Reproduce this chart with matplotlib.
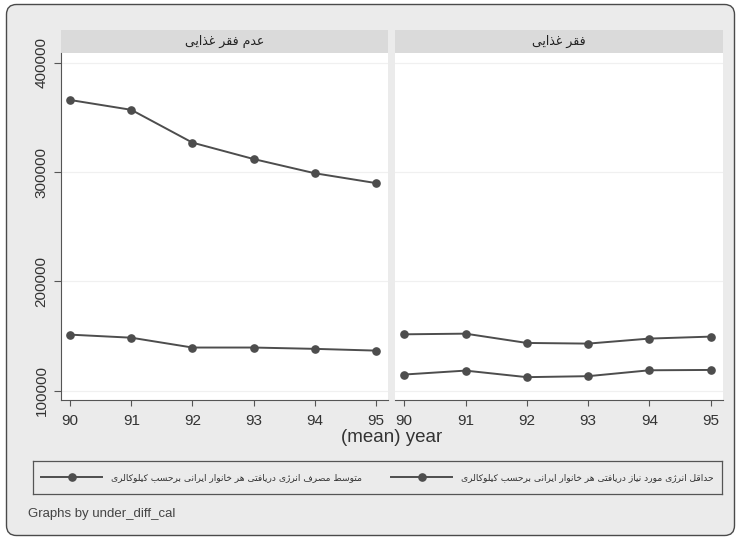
import matplotlib
matplotlib.use("Agg")
import matplotlib.pyplot as plt
from matplotlib.patches import FancyBboxPatch

# data
years = [90, 91, 92, 93, 94, 95]
panel_titles = ["عدم فقر غذایی", "فقر غذایی"]
series_labels = ["متوسط مصرف انرژی دریافتی هر خانوار ایرانی برحسب کیلوکالری",
                 "حداقل انرژی مورد نیاز دریافتی هر خانوار ایرانی برحسب کیلوکالری"]
# panel 1 (no food poverty)
consumption_p1 = [366000, 357000, 327000, 312000, 299000, 290000]
minimum_p1 = [151300, 148500, 139500, 139500, 138300, 136700]
# panel 2 (food poverty)
consumption_p2 = [114800, 118400, 112400, 113300, 118700, 119000]
minimum_p2 = [151600, 152200, 143700, 143100, 147700, 149500]
yticks = [100000, 200000, 300000, 400000]

# crude arabic shaping (matplotlib has no bidi / joining)
FORMS = {
    'ا': ('\uFE8D', '\uFE8E', None, None),
    'ب': ('\uFE8F', '\uFE90', '\uFE91', '\uFE92'),
    'ت': ('\uFE95', '\uFE96', '\uFE97', '\uFE98'),
    'ح': ('\uFEA1', '\uFEA2', '\uFEA3', '\uFEA4'),
    'خ': ('\uFEA5', '\uFEA6', '\uFEA7', '\uFEA8'),
    'د': ('\uFEA9', '\uFEAA', None, None),
    'ذ': ('\uFEAB', '\uFEAC', None, None),
    'ر': ('\uFEAD', '\uFEAE', None, None),
    'ز': ('\uFEAF', '\uFEB0', None, None),
    'ژ': ('\uFB8A', '\uFB8B', None, None),
    'س': ('\uFEB1', '\uFEB2', '\uFEB3', '\uFEB4'),
    'ص': ('\uFEB9', '\uFEBA', '\uFEBB', '\uFEBC'),
    'ط': ('\uFEC1', '\uFEC2', '\uFEC3', '\uFEC4'),
    'ع': ('\uFEC9', '\uFECA', '\uFECB', '\uFECC'),
    'غ': ('\uFECD', '\uFECE', '\uFECF', '\uFED0'),
    'ف': ('\uFED1', '\uFED2', '\uFED3', '\uFED4'),
    'ق': ('\uFED5', '\uFED6', '\uFED7', '\uFED8'),
    'ک': ('\uFB8E', '\uFB8F', '\uFB90', '\uFB91'),
    'ل': ('\uFEDD', '\uFEDE', '\uFEDF', '\uFEE0'),
    'م': ('\uFEE1', '\uFEE2', '\uFEE3', '\uFEE4'),
    'ن': ('\uFEE5', '\uFEE6', '\uFEE7', '\uFEE8'),
    'ه': ('\uFEE9', '\uFEEA', '\uFEEB', '\uFEEC'),
    'و': ('\uFEED', '\uFEEE', None, None),
    'ی': ('\uFBFC', '\uFBFD', '\uFBFE', '\uFBFF'),
}


def shape(s):
    out = []
    for i, c in enumerate(s):
        if c not in FORMS:
            out.append(c)
            continue
        prev = s[i - 1] if i > 0 else ''
        nxt = s[i + 1] if i + 1 < len(s) else ''
        f = FORMS[c]
        jp = prev in FORMS and FORMS[prev][2] is not None
        jn = nxt in FORMS and f[2] is not None
        if jp and jn:
            out.append(f[3])
        elif jp:
            out.append(f[1])
        elif jn:
            out.append(f[2])
        else:
            out.append(f[0])
    return ''.join(reversed(out))


W, H = 736, 538
plt.rcParams['font.family'] = ['Liberation Sans', 'DejaVu Sans']
fig = plt.figure(figsize=(W / 100, H / 100), dpi=100, facecolor='white')


def px_axes(x0, y0, x1, y1):
    return fig.add_axes([x0 / W, 1 - y1 / H, (x1 - x0) / W, (y1 - y0) / H])


# outer rounded frame
frame = FancyBboxPatch((0.065, 0.025), 7.28, 5.31, boxstyle="round,pad=0,rounding_size=0.1",
                       transform=fig.dpi_scale_trans, facecolor='#ebebeb', edgecolor='#4a4a4a',
                       lw=1.0, zorder=-10)
fig.patches.append(frame)

line_kw = dict(color='#4d4d4d', lw=1.4, marker='o', ms=5.2, mfc='#4d4d4d', mec='#4d4d4d')
panels = [(61, 388, consumption_p1, minimum_p1), (395, 723, consumption_p2, minimum_p2)]
handles = []
for k, (x0, x1, cons, mini) in enumerate(panels):
    tb = px_axes(x0, 30, x1, 53)
    tb.set_facecolor('#dadada')
    tb.set_xticks([])
    tb.set_yticks([])
    for s in tb.spines.values():
        s.set_visible(False)
    tb.text(0.5, 0.5, shape(panel_titles[k]), family='DejaVu Sans', fontsize=9,
            color='#222222', ha='center', va='center', transform=tb.transAxes)

    ax = px_axes(x0, 53, x1, 400)
    ax.set_facecolor('white')
    h1, = ax.plot(years, cons, **line_kw)
    h2, = ax.plot(years, mini, **line_kw)
    handles = [h1, h2]
    ax.set_xlim(89.85, 95.2)
    ax.set_ylim(91500, 409000)
    ax.set_xticks(years)
    ax.set_xticklabels([str(y) for y in years])
    ax.set_yticks(yticks)
    for yv in yticks:
        ax.axhline(yv, color='#f0f0f0', lw=0.9, zorder=0)
    for s in ['top', 'right']:
        ax.spines[s].set_visible(False)
    ax.spines['bottom'].set_color('#555555')
    ax.spines['left'].set_color('#555555')
    ax.tick_params(axis='x', length=4, color='#555555', labelsize=11, labelcolor='#333333', pad=6)
    ax.tick_params(axis='y', length=5, color='#555555', labelsize=11, labelcolor='#333333', pad=4)
    if k == 0:
        ax.set_yticklabels([str(v) for v in yticks], rotation=90, va='center')
    else:
        ax.spines['left'].set_visible(False)
        ax.tick_params(axis='y', left=False, labelleft=False)

fig.text(392 / W, 1 - 437 / H, "(mean) year", fontsize=13.5, color='#333333',
         ha='center', va='center')

# legend box
leg_ax = px_axes(33, 461, 722, 494)
leg_ax.set_xticks([])
leg_ax.set_yticks([])
leg_ax.set_facecolor('#ebebeb')
for s in leg_ax.spines.values():
    s.set_color('#555555')
    s.set_linewidth(0.9)
leg = leg_ax.legend(handles, [shape(t) for t in series_labels], ncol=2, loc='center',
                    frameon=False, handlelength=6.6, columnspacing=3.2, handletextpad=1.0,
                    prop={'family': 'DejaVu Sans', 'size': 6.6})
for t in leg.get_texts():
    t.set_color('#333333')

fig.text(28 / W, 1 - 514 / H, "Graphs by under_diff_cal", fontsize=9.5, color='#444444',
         ha='left', va='center')

fig.savefig("out.png", dpi=100, facecolor='white')
